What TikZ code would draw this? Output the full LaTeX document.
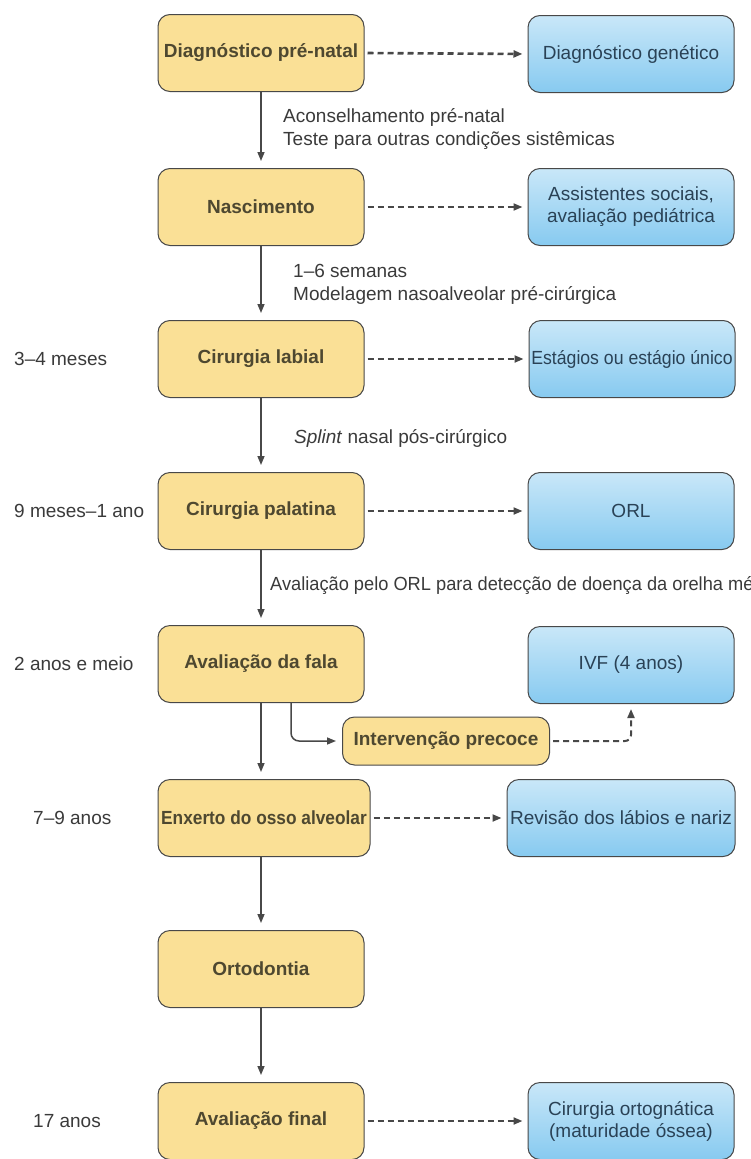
\documentclass[tikz,border=0pt]{standalone}
\usepackage{fontspec}
\usepackage{graphicx}
\setmainfont{Liberation Sans}
\usetikzlibrary{arrows.meta}
\definecolor{boxyellow}{RGB}{250,224,150}
\definecolor{boxblue}{RGB}{135,202,240}
\definecolor{edgegray}{RGB}{72,72,72}
\definecolor{txtolive}{RGB}{78,72,48}
\definecolor{txtslate}{RGB}{42,66,86}
\definecolor{txtgray}{RGB}{58,58,58}

\tikzset{
  box/.style={draw=edgegray, line width=1pt, rounded corners=12pt,
    minimum width=206pt, minimum height=77pt, inner sep=2pt, align=center},
  stage/.style={box, fill=boxyellow, text=txtolive,
    font=\fontsize{19}{23}\selectfont\bfseries},
  extra/.style={box, top color=boxblue!45!white, bottom color=boxblue,
    text=txtslate, font=\fontsize{19}{22}\selectfont},
  note/.style={anchor=west, text=txtgray, align=left, inner sep=0pt,
    font=\fontsize{19}{23}\selectfont},
  flow/.style={draw=edgegray, line width=1.5pt,
    -{Triangle[length=9pt,width=7pt]}, shorten >=7pt},
  refer/.style={flow, line width=2pt, dash pattern=on 6pt off 4pt,
    shorten <=3pt, shorten >=5pt}
}

\begin{document}
\begin{tikzpicture}[x=1pt, y=-1pt]
		%%%%% START %%%%%
		\useasboundingbox (0,0) rectangle (750,1159);
		\clip (0,0) rectangle (750,1159);
		
		% stages
		\node[stage] (prenatal) at (261,53) {Diagnóstico pré-natal};
		\node[stage] (nasc) at (261,207) {Nascimento};
		\node[stage] (labial) at (261,359) {Cirurgia labial};
		\node[stage] (palatina) at (261,511) {Cirurgia palatina};
		\node[stage] (fala) at (261,664) {Avaliação da fala};
		\node[stage, minimum width=207pt, minimum height=48pt] (interv) at (446,741) {Intervenção precoce};
		\node[stage, minimum width=212pt] (enxerto) at (264,818) {\scalebox{0.91}[1]{Enxerto do osso alveolar}};
		\node[stage] (orto) at (261,969) {Ortodontia};
		\node[stage] (final) at (261,1121) {Avaliação final};
		
		% referrals
		\node[extra] (genetico) at (631,54) {Diagnóstico genético};
		\node[extra] (social) at (631,207) {Assistentes sociais,\\avaliação pediátrica};
		\node[extra] (estagios) at (632,359) {\scalebox{0.93}[1]{Estágios ou estágio único}};
		\node[extra] (orl) at (631,511) {ORL};
		\node[extra] (ivf) at (631,665) {IVF (4 anos)};
		\node[extra, minimum width=228pt] (revisao) at (621,818) {Revisão dos lábios e nariz};
		\node[extra] (ortog) at (631,1121) {Cirurgia ortognática\\(maturidade óssea)};
		
		% ages
		\node[note] (age1) at (14,359) {3–4 meses};
		\node[note] (age2) at (14,511) {9 meses–1 ano};
		\node[note] (age3) at (14,664) {2 anos e meio};
		\node[note] (age4) at (33,818) {7–9 anos};
		\node[note] (age5) at (33,1121) {17 anos};
		
		% notes
		\node[note] (note1) at (283,129) {Aconselhamento pré-natal\\Teste para outras condições sistêmicas};
		\node[note] (note2) at (293,284) {1–6 semanas\\Modelagem nasoalveolar pré-cirúrgica};
		\node[note] (note3) at (294,438) {\textit{Splint} nasal pós-cirúrgico};
		\node[note] (note4) at (270,586) {\scalebox{0.96}[1]{Avaliação pelo ORL para detecção de doença da orelha média}};
		
		\draw[flow] (prenatal.south) -- (nasc.north);
		\draw[flow] (nasc.south) -- (labial.north);
		\draw[flow] (labial.south) -- (palatina.north);
		\draw[flow] (palatina.south) -- (fala.north);
		\draw[flow] (fala.south) -- (fala.south |- enxerto.north);
		\draw[flow, rounded corners=8pt, shorten >=6pt] ([xshift=30pt]fala.south) |- (interv.west);
		\draw[flow] (fala.south |- enxerto.south) -- (orto.north);
		\draw[flow] (orto.south) -- (final.north);
		
		\draw[refer, line width=2.6pt] (prenatal.east) -- (genetico.west);
		\draw[refer] (nasc.east) -- (social.west);
		\draw[refer] (labial.east) -- (estagios.west);
		\draw[refer] (palatina.east) -- (orl.west);
		\draw[refer, rounded corners=6pt] (interv.east) -| (ivf.south);
		\draw[refer] (enxerto.east) -- (revisao.west);
		\draw[refer] (final.east) -- (ortog.west);
		
		%%%%% END %%%%%
	\end{tikzpicture}
\end{document}
